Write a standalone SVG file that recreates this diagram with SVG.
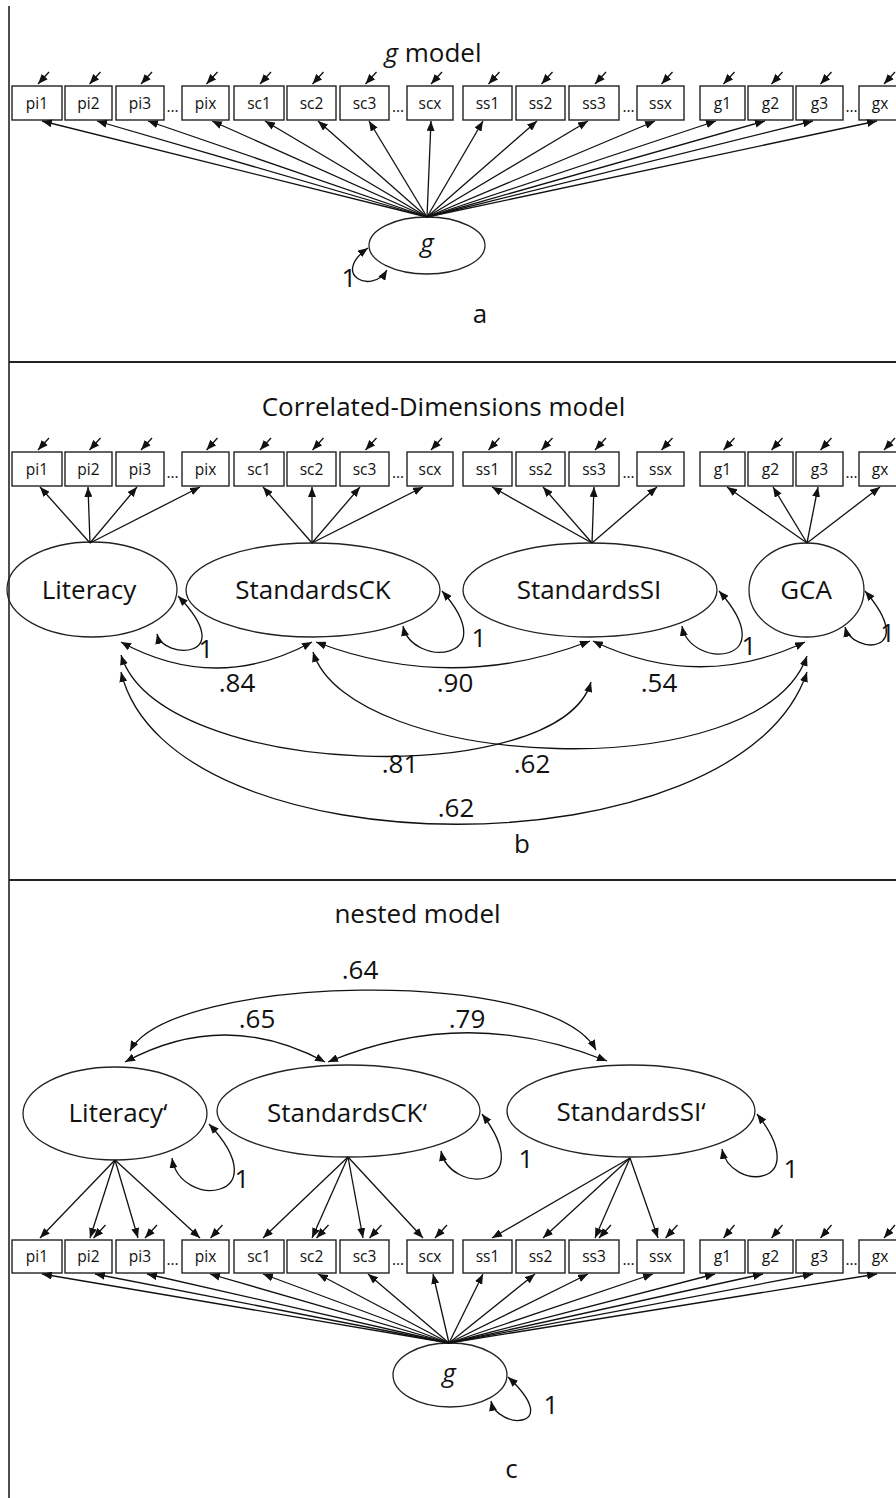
<svg xmlns="http://www.w3.org/2000/svg" width="896" height="1498" viewBox="0 0 896 1498">
<defs>
<marker id="ah" viewBox="0 0 10 8" refX="10" refY="4" markerWidth="10" markerHeight="8" markerUnits="userSpaceOnUse" orient="auto-start-reverse">
<path d="M0,0 L10,4 L0,8 z" fill="#111"/>
</marker>
</defs>
<style>
.box{fill:#fff;stroke:#222;stroke-width:1.4}
.lv{fill:#fff;stroke:#222;stroke-width:1.3}
.t{font-family:"Open Sans","Liberation Sans",sans-serif;fill:#111;text-anchor:middle}
.s{font-size:15.5px}
.L{font-size:26px}
.it{font-style:italic}
.c{stroke:#111;stroke-width:1.3;fill:none}
.a{marker-end:url(#ah)}
.d{marker-start:url(#ah);marker-end:url(#ah)}
.frame{stroke:#222;fill:none}
</style>
<rect x="0" y="0" width="896" height="1498" fill="#fff"/>

<!-- ============ Panel a ============ -->
<g id="panel-a-titles">
<text class="t L" x="433" y="62"><tspan class="it">g</tspan> model</text>
<text class="t L" x="480" y="323">a</text>
<text class="t L" x="349" y="287">1</text>
</g>
<g id="a-items">
<g id="a-pi1"><rect class="box" x="12" y="86" width="50" height="34"/><text class="t s" x="37" y="109">pi1</text></g>
<g id="a-pi2"><rect class="box" x="65" y="86" width="47" height="34"/><text class="t s" x="88.5" y="109">pi2</text></g>
<g id="a-pi3"><rect class="box" x="116" y="86" width="48" height="34"/><text class="t s" x="140" y="109">pi3</text></g>
<g id="a-pix"><rect class="box" x="182" y="86" width="47" height="34"/><text class="t s" x="205.5" y="109">pix</text></g>
<g id="a-sc1"><rect class="box" x="234" y="86" width="50" height="34"/><text class="t s" x="259" y="109">sc1</text></g>
<g id="a-sc2"><rect class="box" x="287" y="86" width="49" height="34"/><text class="t s" x="311.5" y="109">sc2</text></g>
<g id="a-sc3"><rect class="box" x="340" y="86" width="49" height="34"/><text class="t s" x="364.5" y="109">sc3</text></g>
<g id="a-scx"><rect class="box" x="407" y="86" width="46" height="34"/><text class="t s" x="430" y="109">scx</text></g>
<g id="a-ss1"><rect class="box" x="463" y="86" width="49" height="34"/><text class="t s" x="487.5" y="109">ss1</text></g>
<g id="a-ss2"><rect class="box" x="516" y="86" width="49" height="34"/><text class="t s" x="540.5" y="109">ss2</text></g>
<g id="a-ss3"><rect class="box" x="569" y="86" width="50" height="34"/><text class="t s" x="594" y="109">ss3</text></g>
<g id="a-ssx"><rect class="box" x="637" y="86" width="47" height="34"/><text class="t s" x="660.5" y="109">ssx</text></g>
<g id="a-g1"><rect class="box" x="700" y="86" width="45" height="34"/><text class="t s" x="722.5" y="109">g1</text></g>
<g id="a-g2"><rect class="box" x="748" y="86" width="45" height="34"/><text class="t s" x="770.5" y="109">g2</text></g>
<g id="a-g3"><rect class="box" x="796" y="86" width="47" height="34"/><text class="t s" x="819.5" y="109">g3</text></g>
<g id="a-gx"><rect class="box" x="859" y="86" width="48" height="34"/><text class="t s" x="880" y="109">gx</text></g>
<g id="a-dots"><text class="t s" x="172.5" y="112">...</text><text class="t s" x="398" y="112">...</text><text class="t s" x="628.5" y="112">...</text><text class="t s" x="851.5" y="112">...</text></g>
<g id="a-g"><ellipse class="lv" cx="427" cy="245.5" rx="58" ry="28.5"/><text class="t L it" x="427" y="252">g</text></g>
</g>

<!-- ============ Panel b ============ -->
<g id="panel-b-titles">
<text class="t L" x="443.5" y="416">Correlated-Dimensions model</text>
<text class="t L" x="522" y="853">b</text>
<text class="t L" x="237" y="692">.84</text>
<text class="t L" x="455" y="692">.90</text>
<text class="t L" x="659" y="692">.54</text>
<text class="t L" x="400" y="773">.81</text>
<text class="t L" x="532" y="773">.62</text>
<text class="t L" x="456" y="817">.62</text>
<text class="t L" x="206" y="658">1</text>
<text class="t L" x="479" y="647">1</text>
<text class="t L" x="749" y="655">1</text>
<text class="t L" x="895" y="642" style="text-anchor:end">1</text>
</g>
<g id="b-items">
<g id="b-pi1"><rect class="box" x="12" y="452" width="50" height="34"/><text class="t s" x="37" y="475">pi1</text></g>
<g id="b-pi2"><rect class="box" x="65" y="452" width="47" height="34"/><text class="t s" x="88.5" y="475">pi2</text></g>
<g id="b-pi3"><rect class="box" x="116" y="452" width="48" height="34"/><text class="t s" x="140" y="475">pi3</text></g>
<g id="b-pix"><rect class="box" x="182" y="452" width="47" height="34"/><text class="t s" x="205.5" y="475">pix</text></g>
<g id="b-sc1"><rect class="box" x="234" y="452" width="50" height="34"/><text class="t s" x="259" y="475">sc1</text></g>
<g id="b-sc2"><rect class="box" x="287" y="452" width="49" height="34"/><text class="t s" x="311.5" y="475">sc2</text></g>
<g id="b-sc3"><rect class="box" x="340" y="452" width="49" height="34"/><text class="t s" x="364.5" y="475">sc3</text></g>
<g id="b-scx"><rect class="box" x="407" y="452" width="46" height="34"/><text class="t s" x="430" y="475">scx</text></g>
<g id="b-ss1"><rect class="box" x="463" y="452" width="49" height="34"/><text class="t s" x="487.5" y="475">ss1</text></g>
<g id="b-ss2"><rect class="box" x="516" y="452" width="49" height="34"/><text class="t s" x="540.5" y="475">ss2</text></g>
<g id="b-ss3"><rect class="box" x="569" y="452" width="50" height="34"/><text class="t s" x="594" y="475">ss3</text></g>
<g id="b-ssx"><rect class="box" x="637" y="452" width="47" height="34"/><text class="t s" x="660.5" y="475">ssx</text></g>
<g id="b-g1"><rect class="box" x="700" y="452" width="45" height="34"/><text class="t s" x="722.5" y="475">g1</text></g>
<g id="b-g2"><rect class="box" x="748" y="452" width="45" height="34"/><text class="t s" x="770.5" y="475">g2</text></g>
<g id="b-g3"><rect class="box" x="796" y="452" width="47" height="34"/><text class="t s" x="819.5" y="475">g3</text></g>
<g id="b-gx"><rect class="box" x="859" y="452" width="48" height="34"/><text class="t s" x="880" y="475">gx</text></g>
<g id="b-dots"><text class="t s" x="172.5" y="478">...</text><text class="t s" x="398" y="478">...</text><text class="t s" x="628.5" y="478">...</text><text class="t s" x="851.5" y="478">...</text></g>
<g id="b-literacy"><ellipse class="lv" cx="92" cy="589.5" rx="85" ry="47.5"/><text class="t L" x="89" y="599">Literacy</text></g>
<g id="b-standardsck"><ellipse class="lv" cx="313" cy="590" rx="127" ry="47"/><text class="t L" x="313" y="599">StandardsCK</text></g>
<g id="b-standardssi"><ellipse class="lv" cx="590" cy="590" rx="127" ry="47"/><text class="t L" x="589" y="599">StandardsSI</text></g>
<g id="b-gca"><ellipse class="lv" cx="806.5" cy="590" rx="57.5" ry="47"/><text class="t L" x="806" y="599">GCA</text></g>
</g>

<!-- ============ Panel c ============ -->
<g id="panel-c-titles">
<text class="t L" x="417.5" y="923">nested model</text>
<text class="t L" x="511.5" y="1478">c</text>
<text class="t L" x="360" y="979">.64</text>
<text class="t L" x="257" y="1028">.65</text>
<text class="t L" x="467" y="1028">.79</text>
<text class="t L" x="242" y="1188">1</text>
<text class="t L" x="526" y="1168">1</text>
<text class="t L" x="791" y="1178">1</text>
<text class="t L" x="551" y="1414">1</text>
</g>
<g id="c-items">
<g id="c-literacy"><ellipse class="lv" cx="115" cy="1113.5" rx="92" ry="46.5"/><text class="t L" x="118" y="1122">Literacy‘</text></g>
<g id="c-standardsck"><ellipse class="lv" cx="348.5" cy="1111" rx="131.5" ry="46"/><text class="t L" x="347" y="1122">StandardsCK‘</text></g>
<g id="c-standardssi"><ellipse class="lv" cx="631" cy="1111" rx="124" ry="46"/><text class="t L" x="631" y="1121">StandardsSI‘</text></g>
<g id="c-pi1"><rect class="box" x="12" y="1240" width="50" height="33"/><text class="t s" x="37" y="1262">pi1</text></g>
<g id="c-pi2"><rect class="box" x="65" y="1240" width="47" height="33"/><text class="t s" x="88.5" y="1262">pi2</text></g>
<g id="c-pi3"><rect class="box" x="116" y="1240" width="48" height="33"/><text class="t s" x="140" y="1262">pi3</text></g>
<g id="c-pix"><rect class="box" x="182" y="1240" width="47" height="33"/><text class="t s" x="205.5" y="1262">pix</text></g>
<g id="c-sc1"><rect class="box" x="234" y="1240" width="50" height="33"/><text class="t s" x="259" y="1262">sc1</text></g>
<g id="c-sc2"><rect class="box" x="287" y="1240" width="49" height="33"/><text class="t s" x="311.5" y="1262">sc2</text></g>
<g id="c-sc3"><rect class="box" x="340" y="1240" width="49" height="33"/><text class="t s" x="364.5" y="1262">sc3</text></g>
<g id="c-scx"><rect class="box" x="407" y="1240" width="46" height="33"/><text class="t s" x="430" y="1262">scx</text></g>
<g id="c-ss1"><rect class="box" x="463" y="1240" width="49" height="33"/><text class="t s" x="487.5" y="1262">ss1</text></g>
<g id="c-ss2"><rect class="box" x="516" y="1240" width="49" height="33"/><text class="t s" x="540.5" y="1262">ss2</text></g>
<g id="c-ss3"><rect class="box" x="569" y="1240" width="50" height="33"/><text class="t s" x="594" y="1262">ss3</text></g>
<g id="c-ssx"><rect class="box" x="637" y="1240" width="47" height="33"/><text class="t s" x="660.5" y="1262">ssx</text></g>
<g id="c-g1"><rect class="box" x="700" y="1240" width="45" height="33"/><text class="t s" x="722.5" y="1262">g1</text></g>
<g id="c-g2"><rect class="box" x="748" y="1240" width="45" height="33"/><text class="t s" x="770.5" y="1262">g2</text></g>
<g id="c-g3"><rect class="box" x="796" y="1240" width="47" height="33"/><text class="t s" x="819.5" y="1262">g3</text></g>
<g id="c-gx"><rect class="box" x="859" y="1240" width="48" height="33"/><text class="t s" x="880" y="1262">gx</text></g>
<g id="c-dots"><text class="t s" x="172.5" y="1265">...</text><text class="t s" x="398" y="1265">...</text><text class="t s" x="628.5" y="1265">...</text><text class="t s" x="851.5" y="1265">...</text></g>
<g id="c-g"><ellipse class="lv" cx="450" cy="1375" rx="57" ry="32"/><text class="t L it" x="449" y="1382">g</text></g>
</g>

<!-- ============ Connectors ============ -->
<g id="connectors" class="c">
<!-- panel a errors -->
<path class="a" d="M49,72 L38,84"/><path class="a" d="M100.5,72 L89.5,84"/><path class="a" d="M152,72 L141,84"/><path class="a" d="M217.5,72 L206.5,84"/>
<path class="a" d="M271,72 L260,84"/><path class="a" d="M323.5,72 L312.5,84"/><path class="a" d="M376.5,72 L365.5,84"/><path class="a" d="M442,72 L431,84"/>
<path class="a" d="M499.5,72 L488.5,84"/><path class="a" d="M552.5,72 L541.5,84"/><path class="a" d="M606,72 L595,84"/><path class="a" d="M672.5,72 L661.5,84"/>
<path class="a" d="M734.5,72 L723.5,84"/><path class="a" d="M782.5,72 L771.5,84"/><path class="a" d="M831.5,72 L820.5,84"/><path class="a" d="M895,72 L884,84"/>
<!-- panel a g loadings -->
<path class="a" d="M427,217 L42,121"/><path class="a" d="M427,217 L97,121"/><path class="a" d="M427,217 L148,121"/><path class="a" d="M427,217 L212,121"/>
<path class="a" d="M427,217 L265,121"/><path class="a" d="M427,217 L318,121"/><path class="a" d="M427,217 L369,121"/><path class="a" d="M427,217 L431,121"/>
<path class="a" d="M427,217 L483,121"/><path class="a" d="M427,217 L537,121"/><path class="a" d="M427,217 L588,121"/><path class="a" d="M427,217 L655,121"/>
<path class="a" d="M427,217 L716,121"/><path class="a" d="M427,217 L765,121"/><path class="a" d="M427,217 L813,121"/><path class="a" d="M427,217 L877,121"/>
<!-- panel a g variance -->
<path class="d" d="M387,270 C372,295 330,275 368,248"/>

<!-- panel b errors -->
<path class="a" d="M49,438 L38,450"/><path class="a" d="M100.5,438 L89.5,450"/><path class="a" d="M152,438 L141,450"/><path class="a" d="M217.5,438 L206.5,450"/>
<path class="a" d="M271,438 L260,450"/><path class="a" d="M323.5,438 L312.5,450"/><path class="a" d="M376.5,438 L365.5,450"/><path class="a" d="M442,438 L431,450"/>
<path class="a" d="M499.5,438 L488.5,450"/><path class="a" d="M552.5,438 L541.5,450"/><path class="a" d="M606,438 L595,450"/><path class="a" d="M672.5,438 L661.5,450"/>
<path class="a" d="M734.5,438 L723.5,450"/><path class="a" d="M782.5,438 L771.5,450"/><path class="a" d="M831.5,438 L820.5,450"/><path class="a" d="M895,438 L884,450"/>
<!-- panel b loadings -->
<path class="a" d="M90,543 L40,487"/><path class="a" d="M90,543 L88,487"/><path class="a" d="M90,543 L137,487"/><path class="a" d="M90,543 L200,487"/>
<path class="a" d="M312,543 L263,487"/><path class="a" d="M312,543 L312,487"/><path class="a" d="M312,543 L360,487"/><path class="a" d="M312,543 L423,487"/>
<path class="a" d="M592,543 L492,487"/><path class="a" d="M592,543 L543,487"/><path class="a" d="M592,543 L594,487"/><path class="a" d="M592,543 L657,487"/>
<path class="a" d="M807,543 L727,487"/><path class="a" d="M807,543 L773,487"/><path class="a" d="M807,543 L818,487"/><path class="a" d="M807,543 L880,487"/>
<!-- panel b variances -->
<path class="d" d="M157,634 C163,660 240,660 178,596"/>
<path class="d" d="M403,626 C412,668 505,662 442,591"/>
<path class="d" d="M682,626 C690,670 785,665 719,591"/>
<path class="d" d="M845,627 C852,655 920,655 865,591"/>
<!-- panel b covariances -->
<path class="d" d="M121,642 Q216,694 312,642"/>
<path class="d" d="M316,642 Q453,694 590,641"/>
<path class="d" d="M593,641 Q699,692 805,642"/>
<path class="d" d="M121,655 C160,780 560,790 591,682"/>
<path class="d" d="M313,652 C350,770 760,790 807,656"/>
<path class="d" d="M121,672 C170,875 740,875 807,672"/>

<!-- panel c covariances -->
<path class="d" d="M125,1062 Q225,1008 325,1062"/>
<path class="d" d="M328,1062 Q467,1004 607,1061"/>
<path class="d" d="M130,1051 C170,975 550,965 596,1050"/>
<!-- panel c variances -->
<path class="d" d="M172,1158 C180,1210 280,1200 209,1124"/>
<path class="d" d="M441,1151 C450,1195 540,1190 482,1114"/>
<path class="d" d="M722,1149 C730,1192 815,1188 757,1114"/>
<path class="d" d="M491,1401 C497,1430 565,1430 508,1377"/>
<!-- panel c specific loadings -->
<path class="a" d="M115,1160 L40,1238"/><path class="a" d="M115,1160 L90,1238"/><path class="a" d="M115,1160 L138,1238"/><path class="a" d="M115,1160 L200,1238"/>
<path class="a" d="M348,1157 L263,1238"/><path class="a" d="M348,1157 L312,1238"/><path class="a" d="M348,1157 L363,1238"/><path class="a" d="M348,1157 L423,1238"/>
<path class="a" d="M630,1158 L492,1238"/><path class="a" d="M630,1158 L543,1238"/><path class="a" d="M630,1158 L595,1238"/><path class="a" d="M630,1158 L658,1238"/>
<!-- panel c errors -->
<path class="a" d="M105.5,1225 L93.5,1238"/><path class="a" d="M157,1225 L145,1238"/><path class="a" d="M222.5,1225 L210.5,1238"/>
<path class="a" d="M328.5,1225 L316.5,1238"/><path class="a" d="M381.5,1225 L369.5,1238"/><path class="a" d="M447,1225 L435,1238"/>
<path class="a" d="M611,1225 L599,1238"/><path class="a" d="M677.5,1225 L665.5,1238"/>
<path class="a" d="M734.5,1225 L723.5,1238"/><path class="a" d="M782.5,1225 L771.5,1238"/><path class="a" d="M831.5,1225 L820.5,1238"/><path class="a" d="M895,1225 L884,1238"/>
<!-- panel c g loadings -->
<path class="a" d="M449,1343 L42,1274"/><path class="a" d="M449,1343 L95,1274"/><path class="a" d="M449,1343 L147,1274"/><path class="a" d="M449,1343 L210,1274"/>
<path class="a" d="M449,1343 L263,1274"/><path class="a" d="M449,1343 L318,1274"/><path class="a" d="M449,1343 L368,1274"/><path class="a" d="M449,1343 L433,1274"/>
<path class="a" d="M449,1343 L483,1274"/><path class="a" d="M449,1343 L535,1274"/><path class="a" d="M449,1343 L588,1274"/><path class="a" d="M449,1343 L653,1274"/>
<path class="a" d="M449,1343 L715,1274"/><path class="a" d="M449,1343 L763,1274"/><path class="a" d="M449,1343 L813,1274"/><path class="a" d="M449,1343 L877,1274"/>
</g>

<g id="frame">
<line class="frame" x1="9" y1="6" x2="9" y2="1498" stroke-width="1.6"/>
<line class="frame" x1="9" y1="362" x2="896" y2="362" stroke-width="2.2"/>
<line class="frame" x1="9" y1="880" x2="896" y2="880" stroke-width="2.2"/>
</g>
</svg>
